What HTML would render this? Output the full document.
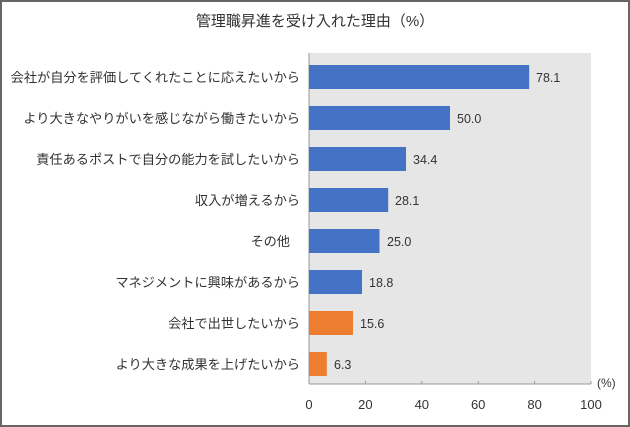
<!DOCTYPE html>
<html><head><meta charset="utf-8"><style>
html,body{margin:0;padding:0;background:#fff}
svg{display:block}
text{font-family:"Liberation Sans","Noto Sans CJK JP",sans-serif;fill:#333}
</style></head><body>
<svg width="630" height="427" viewBox="0 0 630 427">
<rect x="1" y="1" width="628" height="425" fill="#fff" stroke="#666" stroke-width="2"/>
<text x="315" y="26" text-anchor="middle" font-size="15">管理職昇進を受け入れた理由（%）</text>
<rect x="309" y="53" width="282" height="331" fill="#e6e6e6"/>
<line x1="309" y1="53" x2="309" y2="384" stroke="#999"/>
<line x1="309" y1="384" x2="591" y2="384" stroke="#999"/>
<g stroke="#999">
<line x1="365.4" y1="381" x2="365.4" y2="384"/><line x1="421.8" y1="381" x2="421.8" y2="384"/>
<line x1="478.2" y1="381" x2="478.2" y2="384"/><line x1="534.6" y1="381" x2="534.6" y2="384"/>
<line x1="591" y1="381" x2="591" y2="384"/>
</g>
<g font-size="13" text-anchor="middle">
<text x="309" y="409">0</text><text x="365.4" y="409">20</text><text x="421.8" y="409">40</text>
<text x="478.2" y="409">60</text><text x="534.6" y="409">80</text><text x="591" y="409">100</text>
</g>
<text x="597" y="387" font-size="12">(%)</text>
<g>
<rect x="309" y="65" width="220.2" height="24" fill="#4472c4"/>
<rect x="309" y="106" width="141" height="24" fill="#4472c4"/>
<rect x="309" y="147" width="97" height="24" fill="#4472c4"/>
<rect x="309" y="188" width="79.2" height="24" fill="#4472c4"/>
<rect x="309" y="229" width="70.5" height="24" fill="#4472c4"/>
<rect x="309" y="270" width="53" height="24" fill="#4472c4"/>
<rect x="309" y="311" width="44" height="24" fill="#ed7d31"/>
<rect x="309" y="352" width="17.8" height="24" fill="#ed7d31"/>
</g>
<g font-size="12.5">
<text x="536" y="82">78.1</text><text x="457" y="123">50.0</text><text x="413" y="164">34.4</text>
<text x="395" y="205">28.1</text><text x="387" y="246">25.0</text><text x="369" y="287">18.8</text>
<text x="360" y="328">15.6</text><text x="334" y="369">6.3</text>
</g>
<g font-size="13.2" text-anchor="end">
<text x="300" y="82">会社が自分を評価してくれたことに応えたいから</text>
<text x="300" y="123">より大きなやりがいを感じながら働きたいから</text>
<text x="300" y="164">責任あるポストで自分の能力を試したいから</text>
<text x="300" y="205">収入が増えるから</text>
<text x="290" y="246">その他</text>
<text x="300" y="287">マネジメントに興味があるから</text>
<text x="300" y="328">会社で出世したいから</text>
<text x="300" y="369">より大きな成果を上げたいから</text>
</g>
</svg>
</body></html>
